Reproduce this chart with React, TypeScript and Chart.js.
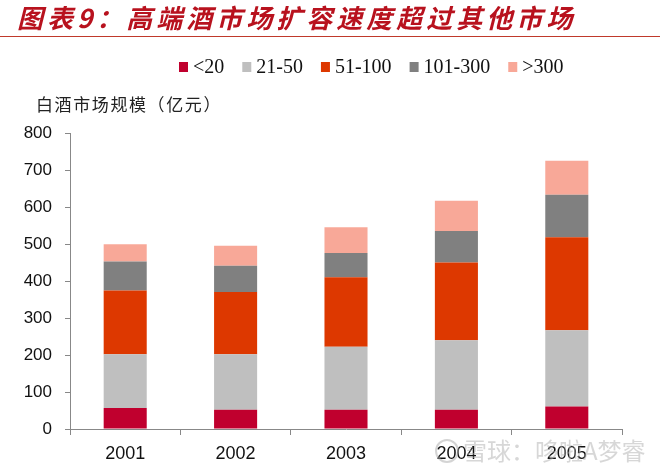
import React, { useEffect, useRef } from "react";
import { Chart, registerables } from "chart.js";

Chart.register(...registerables);

const categories = ["2001", "2002", "2003", "2004", "2005"];
const seriesLabels = ["<20", "21-50", "51-100", "101-300", ">300"];
const lt20 = [57, 52, 52, 52, 61];
const r21to50 = [145, 150, 170, 188, 206];
const r51to100 = [172, 168, 188, 210, 251];
const r101to300 = [79, 71, 66, 85, 115];
const gt300 = [46, 54, 69, 82, 92];
const seriesColors = ["#C0002E", "#BFBFBF", "#DD3800", "#808080", "#F8A898"];
const yTicks = [0, 100, 200, 300, 400, 500, 600, 700, 800];

const titleText = "图表9：高端酒市场扩容速度超过其他市场";
const yTitle = "白酒市场规模（亿元）";
const watermark = "雪球：哆啦A梦睿";

const overlayPlugin = {
  id: "overlay",
  afterDraw(chart: any) {
    const ctx = chart.ctx as CanvasRenderingContext2D;
    ctx.save();
    // legend
    ctx.font = '20px "Liberation Serif", "Times New Roman", serif';
    ctx.textBaseline = "middle";
    ctx.textAlign = "left";
    let x = 179;
    const yc = 67;
    chart.data.datasets.forEach((ds: any) => {
      ctx.fillStyle = ds.backgroundColor;
      ctx.fillRect(x, yc - 5, 9, 10);
      x += 14;
      ctx.fillStyle = "#111";
      ctx.fillText(ds.label, x, yc + 1);
      x += ctx.measureText(ds.label).width + 18;
    });
    // y title
    ctx.font = '17px "Noto Sans CJK SC", sans-serif';
    (ctx as any).letterSpacing = "1.6px";
    ctx.fillStyle = "#222";
    ctx.fillText(yTitle, 36, 105);
    // watermark
    (ctx as any).letterSpacing = "0px";
    ctx.globalAlpha = 0.5;
    ctx.strokeStyle = "#aaa";
    ctx.lineWidth = 2;
    ctx.beginPath();
    ctx.arc(447, 451, 11, 0, Math.PI * 2);
    ctx.stroke();
    ctx.font = '24px "Noto Sans CJK SC", sans-serif';
    ctx.fillStyle = "#b0b0b0";
    ctx.fillText(watermark, 463, 451);
    ctx.restore();
  },
};

export default function App() {
  const ref = useRef<HTMLCanvasElement>(null);
  useEffect(() => {
    if (!ref.current) return;
    const values = [lt20, r21to50, r51to100, r101to300, gt300];
    const chart = new Chart(ref.current, {
      type: "bar",
      data: {
        labels: categories,
        datasets: values.map((v, i) => ({
          label: seriesLabels[i],
          data: v,
          backgroundColor: seriesColors[i],
          borderWidth: 0,
          categoryPercentage: 1,
          barPercentage: 0.39,
        })),
      },
      options: {
        responsive: false,
        animation: false,
        layout: { padding: { top: 133, right: 38, left: 0, bottom: 0 } },
        plugins: {
          legend: { display: false },
          tooltip: { enabled: false },
          title: { display: false },
        },
        scales: {
          x: {
            stacked: true,
            afterFit: (s: any) => {
              s.height = 38;
            },
            grid: {
              offset: true,
              drawOnChartArea: false,
              drawTicks: true,
              tickLength: 6,
              color: "#888",
            },
            border: { display: true, color: "#888", width: 1 },
            ticks: {
              color: "#111",
              padding: 8,
              font: { family: '"Liberation Sans", Arial, sans-serif', size: 18 },
            },
          },
          y: {
            stacked: true,
            min: 0,
            max: 800,
            afterFit: (s: any) => {
              s.width = 70;
            },
            afterBuildTicks: (s: any) => {
              s.ticks = yTicks.map((v) => ({ value: v }));
            },
            grid: {
              drawOnChartArea: false,
              drawTicks: true,
              tickLength: 5,
              color: "#888",
            },
            border: { display: true, color: "#888", width: 1 },
            ticks: {
              color: "#111",
              padding: 13,
              font: { family: '"Liberation Sans", Arial, sans-serif', size: 17 },
            },
          },
        },
      },
      plugins: [overlayPlugin],
    });
    return () => chart.destroy();
  }, []);

  return (
    <div style={{ position: "absolute", left: 0, top: 0, width: 660, height: 467, background: "#fff", overflow: "hidden" }}>
      <canvas ref={ref} width={660} height={467} style={{ position: "absolute", left: 0, top: 0, width: 660, height: 467 }} />
      <div
        style={{
          position: "absolute",
          left: 17,
          top: 3,
          fontFamily: '"Noto Sans CJK SC", sans-serif',
          fontWeight: 700,
          fontStyle: "italic",
          fontSize: 26,
          lineHeight: "28px",
          letterSpacing: 4,
          color: "#B8121E",
          whiteSpace: "nowrap",
        }}
      >
        {titleText}
      </div>
      <div style={{ position: "absolute", left: 0, top: 36, width: 660, height: 0, borderTop: "1.5px solid #C0392B" }} />
    </div>
  );
}
